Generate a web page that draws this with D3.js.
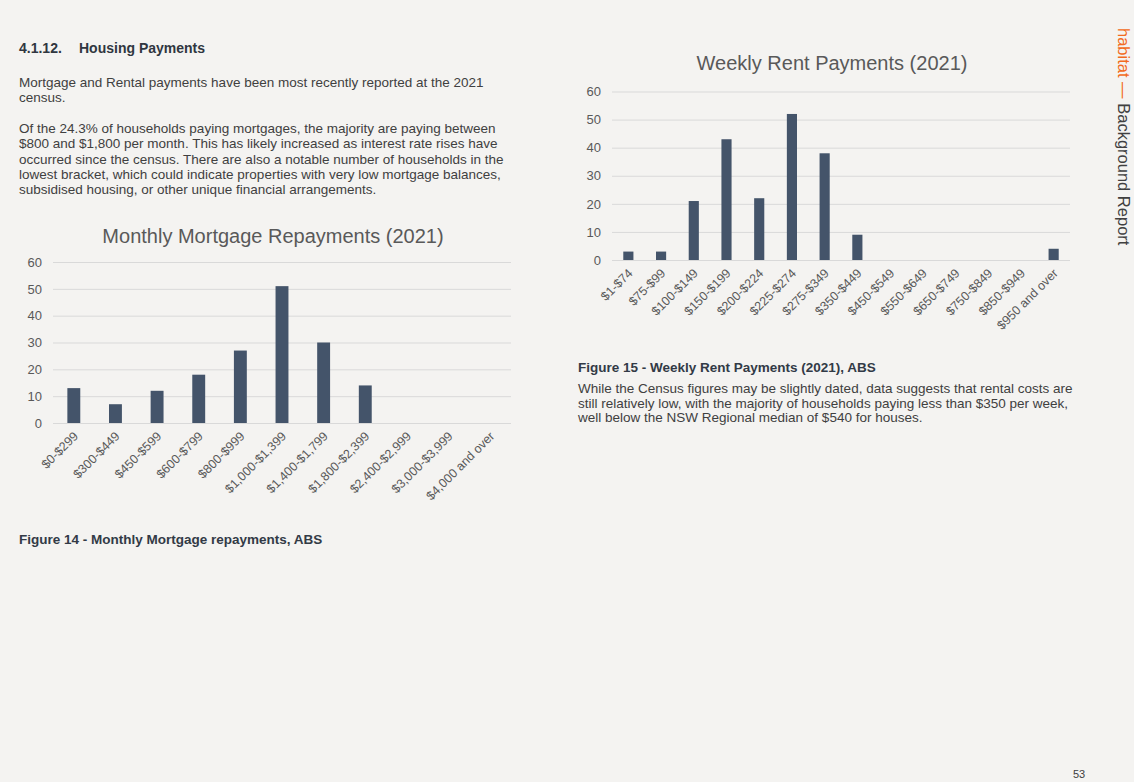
<!DOCTYPE html>
<html>
<head>
<meta charset="utf-8">
<script src="https://cdn.jsdelivr.net/npm/d3@7"></script>
<style>
  html, body { margin: 0; padding: 0; background: #f4f3f1; }
  svg { display: block; font-family: "Liberation Sans", Arial, sans-serif; }
</style>
</head>
<body>
<svg id="page" width="1134" height="782"></svg>
<script>
const mortgageCategories = ["$0-$299", "$300-$449", "$450-$599", "$600-$799", "$800-$999", "$1,000-$1,399", "$1,400-$1,799", "$1,800-$2,399", "$2,400-$2,999", "$3,000-$3,999", "$4,000 and over"];
const mortgageValues = [13, 7, 12, 18, 27, 51, 30, 14, 0, 0, 0];
const rentCategories = ["$1-$74", "$75-$99", "$100-$149", "$150-$199", "$200-$224", "$225-$274", "$275-$349", "$350-$449", "$450-$549", "$550-$649", "$650-$749", "$750-$849", "$850-$949", "$950 and over"];
const rentValues = [3, 3, 21, 43, 22, 52, 38, 9, 0, 0, 0, 0, 0, 4];
const yTickValues = [0, 10, 20, 30, 40, 50, 60];

const svg = d3.select("#page");
svg.append("rect").attr("width", 1134).attr("height", 782).attr("fill", "#f4f3f1");

const bodyColor = "#404040";
const headColor = "#2f3640";

function textLines(x, baselines, lines, opts = {}) {
  lines.forEach((t, i) => {
    svg.append("text")
      .attr("x", x).attr("y", baselines[i])
      .attr("font-size", opts.size || 13.5)
      .attr("font-weight", opts.weight || "normal")
      .attr("fill", opts.color || bodyColor)
      .text(t);
  });
}

// Left column text
textLines(19, [53], ["4.1.12."], {weight: "bold", color: headColor, size: 14});
textLines(79, [53], ["Housing Payments"], {weight: "bold", color: headColor, size: 14});
textLines(19, [86.5, 102], [
  "Mortgage and Rental payments have been most recently reported at the 2021",
  "census."
]);
textLines(19, [133, 148, 163.5, 179, 194], [
  "Of the 24.3% of households paying mortgages, the majority are paying between",
  "$800 and $1,800 per month. This has likely increased as interest rate rises have",
  "occurred since the census. There are also a notable number of households in the",
  "lowest bracket, which could indicate properties with very low mortgage balances,",
  "subsidised housing, or other unique financial arrangements."
]);
textLines(19, [543.5], ["Figure 14 - Monthly Mortgage repayments, ABS"], {weight: "bold", color: "#323a46"});

// Right column text
textLines(578, [371.5], ["Figure 15 - Weekly Rent Payments (2021), ABS"], {weight: "bold", color: "#323a46"});
textLines(578, [392.5, 407.5, 422], [
  "While the Census figures may be slightly dated, data suggests that rental costs are",
  "still relatively low, with the majority of households paying less than $350 per week,",
  "well below the NSW Regional median of $540 for houses."
]);

// Vertical brand text
const vt = svg.append("text")
  .attr("transform", "translate(1118,28) rotate(90)")
  .attr("font-size", 16.5)
  .attr("fill", "#404040");
vt.append("tspan").attr("fill", "#f26b21").text("habitat \u2014 ");
vt.append("tspan").text("Background Report");

// Page number
svg.append("text").attr("x", 1073).attr("y", 778).attr("font-size", 11).attr("fill", "#404040").text("53");

function drawChart(cfg) {
  const g = svg.append("g");
  const x = d3.scaleBand().domain(cfg.categories).range([cfg.x0, cfg.x1]).paddingInner(0.69).paddingOuter(0.345);
  const y = d3.scaleLinear().domain([0, 60]).range([cfg.y0, cfg.y1]);

  // title
  g.append("text")
    .attr("x", cfg.titleX).attr("y", cfg.titleY)
    .attr("text-anchor", "middle")
    .attr("font-size", 20)
    .attr("fill", "#595959")
    .text(cfg.title);

  // gridlines
  const yAxis = d3.axisLeft(y).tickValues(yTickValues).tickSize(-(cfg.x1 - cfg.x0)).tickPadding(11);
  const ya = g.append("g").attr("transform", `translate(${cfg.x0},0)`).call(yAxis);
  ya.select(".domain").remove();
  ya.selectAll(".tick line").attr("stroke", "#d9d9d9").attr("stroke-width", 1);
  ya.selectAll(".tick text").attr("font-size", 13).attr("fill", "#595959").attr("font-family", "Liberation Sans, Arial, sans-serif");

  // bars
  g.selectAll("rect.bar").data(cfg.values).join("rect")
    .attr("class", "bar")
    .attr("x", (d, i) => x(cfg.categories[i]))
    .attr("width", x.bandwidth())
    .attr("y", d => y(d))
    .attr("height", d => y(0) - y(d))
    .attr("fill", "#44546a");

  // x axis
  const xAxis = d3.axisBottom(x).tickSize(0).tickPadding(0);
  const xa = g.append("g").attr("transform", `translate(0,${cfg.y0})`).call(xAxis);
  xa.select(".domain").remove();
  xa.selectAll(".tick text")
    .attr("font-size", 12.5)
    .attr("fill", "#595959")
    .attr("font-family", "Liberation Sans, Arial, sans-serif")
    .attr("text-anchor", "end")
    .attr("dy", 0)
    .attr("transform", "translate(5,14) rotate(-45)");
}

drawChart({
  categories: mortgageCategories, values: mortgageValues,
  x0: 53, x1: 511, y0: 423, y1: 262,
  title: "Monthly Mortgage Repayments (2021)", titleX: 273, titleY: 243
});
drawChart({
  categories: rentCategories, values: rentValues,
  x0: 612, x1: 1070, y0: 260, y1: 91.5,
  title: "Weekly Rent Payments (2021)", titleX: 832, titleY: 70
});
</script>
</body>
</html>
